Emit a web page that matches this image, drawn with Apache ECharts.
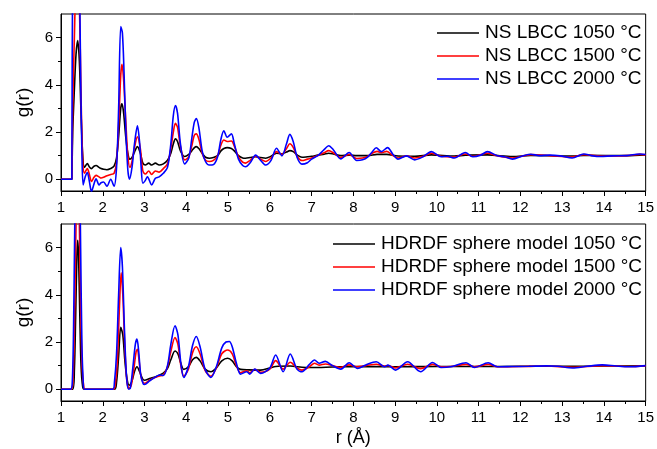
<!DOCTYPE html>
<html>
<head>
<meta charset="utf-8">
<script src="https://cdn.jsdelivr.net/npm/echarts@6/dist/echarts.min.js"></script>
<style>
  html, body { margin: 0; padding: 0; background: #fff; }
  #chart { width: 657px; height: 449px; }
</style>
</head>
<body>
<div id="chart"></div>
<script>
// Pair distribution functions g(r), r in Å.
// Upper panel: NS LBCC; lower panel: HDRDF sphere model.
const seriesNames = {
  top: ['NS LBCC 1050 °C', 'NS LBCC 1500 °C', 'NS LBCC 2000 °C'],
  bottom: ['HDRDF sphere model 1050 °C', 'HDRDF sphere model 1500 °C', 'HDRDF sphere model 2000 °C']
};
const lineColors = ['#000000', '#ff0000', '#0000ff'];

const xTicks = [1, 2, 3, 4, 5, 6, 7, 8, 9, 10, 11, 12, 13, 14, 15];
const yTicks = [0, 2, 4, 6];
const yMinorTicks = [1, 3, 5];

const ns1050 = [
  [1.0,0],[1.26,0],[1.27,0],[1.28,2.0],[1.32,3.8],[1.36,5.3],[1.40,5.87],[1.44,5.0],[1.48,2.8],[1.52,1.0],
  [1.56,0.5],[1.63,0.66],[1.68,0.52],[1.73,0.45],[1.79,0.55],[1.84,0.58],[1.91,0.5],[1.96,0.45],[2.02,0.42],
  [2.1,0.4],[2.19,0.45],[2.27,0.55],[2.33,0.9],[2.38,1.8],[2.43,3.0],[2.46,3.19],[2.5,2.8],[2.55,1.8],
  [2.6,1.1],[2.65,0.85],[2.7,0.92],[2.76,1.15],[2.83,1.38],[2.9,1.1],[2.96,0.68],[3.02,0.6],[3.1,0.68],
  [3.17,0.6],[3.26,0.68],[3.35,0.6],[3.45,0.65],[3.55,0.8],[3.63,1.1],[3.69,1.5],[3.74,1.71],[3.79,1.6],
  [3.86,1.2],[3.96,0.96],[4.06,1.05],[4.13,1.2],[4.19,1.33],[4.24,1.38],[4.3,1.3],[4.38,1.1],[4.46,0.93],
  [4.55,0.89],[4.65,0.92],[4.75,1.0],[4.83,1.2],[4.9,1.3],[4.98,1.34],[5.08,1.3],[5.15,1.2],[5.25,1.0],
  [5.35,0.9],[5.42,0.89],[5.53,0.92],[5.66,0.95],[5.78,0.92],[5.9,0.89],[6.03,0.97],[6.16,1.1],[6.29,1.08],
  [6.4,1.15],[6.48,1.21],[6.56,1.17],[6.66,1.02],[6.77,0.93],[6.9,0.95],[7.0,0.97],[7.15,1.02],[7.3,1.06],
  [7.41,1.1],[7.52,1.07],[7.7,1.0],[7.9,1.02],[8.08,1.0],[8.35,1.0],[8.57,1.05],[8.8,1.05],[9.07,0.98],
  [9.47,0.97],[9.87,1.03],[10.42,0.98],[10.68,1.02],[11.21,1.03],[11.81,0.96],[12.25,1.01],[13.24,0.98],
  [13.52,1.01],[14.55,1.0],[15.0,1.03]
];

const ns1500 = [
  [1.0,0],[1.26,0],[1.27,0],[1.28,3],[1.32,6],[1.36,8.5],[1.40,9],[1.44,7.5],[1.48,3.5],[1.52,0.8],
  [1.56,0.25],[1.63,0.45],[1.68,0.2],[1.73,-0.1],[1.79,0.08],[1.84,0.16],[1.91,0.1],[1.96,0.05],[2.02,0.08],
  [2.1,0.15],[2.19,0.2],[2.27,0.25],[2.33,0.7],[2.38,2.3],[2.43,4.4],[2.46,4.87],[2.5,4.2],[2.55,2.5],
  [2.6,1.0],[2.65,0.5],[2.7,0.75],[2.76,1.35],[2.83,1.8],[2.9,1.3],[2.96,0.35],[3.02,0.22],[3.1,0.35],
  [3.17,0.2],[3.26,0.35],[3.35,0.3],[3.45,0.45],[3.55,0.65],[3.63,1.3],[3.69,2.0],[3.74,2.37],[3.79,2.2],
  [3.86,1.4],[3.96,0.82],[4.06,0.95],[4.13,1.4],[4.19,1.85],[4.24,1.92],[4.3,1.7],[4.38,1.1],[4.46,0.8],
  [4.55,0.75],[4.65,0.8],[4.75,1.0],[4.83,1.45],[4.9,1.66],[4.98,1.6],[5.08,1.62],[5.15,1.4],[5.25,0.95],
  [5.35,0.72],[5.42,0.68],[5.53,0.8],[5.66,0.97],[5.78,0.85],[5.9,0.75],[6.03,0.9],[6.16,1.17],[6.29,1.05],
  [6.4,1.3],[6.48,1.5],[6.56,1.35],[6.66,0.95],[6.77,0.79],[6.9,0.85],[7.0,0.9],[7.15,1.0],[7.3,1.12],
  [7.41,1.21],[7.52,1.12],[7.7,0.92],[7.9,1.05],[8.08,0.88],[8.22,0.9],[8.35,0.97],[8.45,1.1],[8.57,1.18],
  [8.67,1.12],[8.8,1.18],[8.95,1.0],[9.07,0.9],[9.27,0.99],[9.47,0.9],[9.67,0.97],[9.87,1.1],[10.1,0.97],
  [10.42,0.94],[10.68,1.07],[10.86,0.97],[11.21,1.1],[11.45,0.99],[11.81,0.9],[12.25,1.04],[12.7,1.0],
  [13.24,0.94],[13.52,1.04],[13.92,0.98],[14.55,1.0],[14.86,1.05],[15.0,1.03]
];

const ns2000 = [
  [1.0,0],[1.26,0],[1.27,0],[1.28,9],[1.32,11],[1.36,12.5],[1.40,13],[1.44,9],[1.47,4.5],[1.5,1.2],
  [1.53,-0.24],[1.58,0.1],[1.63,0.28],[1.68,-0.1],[1.73,-0.52],[1.79,-0.2],[1.84,0.02],[1.91,-0.24],
  [1.96,-0.15],[2.02,-0.12],[2.1,-0.3],[2.19,0.0],[2.27,-0.3],[2.33,0.5],[2.38,3.0],[2.43,6.47],[2.47,6.2],
  [2.51,4.5],[2.55,2.2],[2.6,0.4],[2.64,0.0],[2.7,0.5],[2.76,1.5],[2.83,2.26],[2.88,1.6],[2.92,0.5],
  [2.96,-0.17],[3.02,-0.05],[3.07,0.1],[3.17,-0.24],[3.26,0.04],[3.35,0.1],[3.45,0.25],[3.55,0.5],
  [3.63,1.5],[3.69,2.7],[3.74,3.12],[3.79,2.8],[3.86,1.5],[3.96,0.65],[4.06,0.9],[4.13,1.7],[4.19,2.4],
  [4.24,2.57],[4.3,2.2],[4.38,1.2],[4.46,0.75],[4.55,0.6],[4.65,0.62],[4.75,0.95],[4.83,1.7],[4.9,2.05],
  [4.98,1.78],[5.08,1.92],[5.15,1.5],[5.25,0.85],[5.35,0.58],[5.42,0.53],[5.53,0.7],[5.66,1.02],[5.78,0.8],
  [5.9,0.6],[6.03,0.8],[6.16,1.31],[6.29,0.99],[6.4,1.5],[6.48,1.9],[6.56,1.6],[6.66,0.9],[6.77,0.64],
  [6.9,0.7],[7.0,0.85],[7.15,1.0],[7.3,1.25],[7.41,1.42],[7.52,1.25],[7.7,0.86],[7.9,1.13],[8.08,0.79],
  [8.22,0.82],[8.35,0.95],[8.45,1.15],[8.55,1.33],[8.67,1.17],[8.82,1.34],[8.95,1.05],[9.07,0.85],
  [9.27,0.99],[9.47,0.82],[9.67,0.95],[9.87,1.17],[10.1,0.95],[10.25,0.97],[10.42,0.9],[10.68,1.13],
  [10.86,0.95],[11.05,1.02],[11.21,1.17],[11.45,0.99],[11.62,0.95],[11.81,0.85],[12.05,0.98],[12.25,1.06],
  [12.45,1.0],[12.7,1.02],[12.95,0.99],[13.24,0.9],[13.52,1.07],[13.7,1.0],[13.92,0.96],[14.2,0.99],
  [14.55,1.0],[14.86,1.07],[15.0,1.05]
];

const hd1050 = [
  [1.0,0],[1.28,0],[1.32,0.8],[1.35,3.0],[1.38,5.6],[1.40,6.31],[1.42,5.7],[1.45,3.2],[1.48,1.0],[1.52,0.1],
  [1.56,0],[2.28,0],[2.33,0.3],[2.38,1.4],[2.43,2.62],[2.48,2.3],[2.53,1.2],[2.58,0.45],[2.63,0.17],
  [2.7,0.35],[2.76,0.75],[2.82,0.95],[2.88,0.75],[2.95,0.45],[3.0,0.38],[3.12,0.45],[3.3,0.55],[3.45,0.68],
  [3.55,0.88],[3.63,1.25],[3.73,1.62],[3.8,1.5],[3.87,1.1],[3.94,0.84],[4.05,0.95],[4.15,1.25],[4.24,1.35],
  [4.33,1.2],[4.45,0.85],[4.59,0.74],[4.72,0.9],[4.85,1.2],[4.99,1.31],[5.1,1.2],[5.2,0.95],[5.3,0.84],
  [5.5,0.82],[5.78,0.81],[6.0,0.9],[6.14,0.96],[6.49,0.98],[6.77,0.93],[7.0,0.92],[7.5,0.94],[8.0,0.96],
  [9.0,0.95],[10.0,0.96],[11.0,0.96],[12.0,0.97],[13.0,0.97],[14.0,0.98],[15.0,0.99]
];

const hd1500 = [
  [1.0,0],[1.25,0],[1.29,0.5],[1.33,3.5],[1.36,7],[1.40,9],[1.44,7],[1.47,3.5],[1.51,0.8],[1.55,0.05],
  [1.58,0],[2.26,0],[2.3,0.2],[2.35,1.2],[2.4,3.5],[2.44,4.93],[2.48,4.0],[2.53,1.7],[2.58,0.3],[2.63,0.03],
  [2.68,0.15],[2.74,0.8],[2.8,1.6],[2.83,1.69],[2.87,1.2],[2.92,0.5],[3.0,0.25],[3.12,0.38],[3.25,0.5],
  [3.36,0.56],[3.45,0.6],[3.55,0.95],[3.63,1.6],[3.73,2.19],[3.8,1.9],[3.87,1.0],[3.94,0.55],[4.05,0.85],
  [4.15,1.55],[4.24,1.8],[4.33,1.5],[4.45,0.8],[4.59,0.55],[4.72,0.9],[4.85,1.5],[4.99,1.66],[5.1,1.5],
  [5.2,1.0],[5.3,0.7],[5.45,0.78],[5.52,0.7],[5.64,0.84],[5.78,0.72],[6.0,0.85],[6.14,1.21],[6.32,0.85],
  [6.49,1.14],[6.65,0.9],[6.77,0.81],[6.95,0.95],[7.07,1.1],[7.18,1.02],[7.33,1.07],[7.5,1.0],[7.67,0.92],
  [7.9,1.03],[8.08,0.95],[8.3,1.0],[8.55,1.06],[8.75,0.98],[8.83,1.0],[9.01,0.9],[9.3,1.06],[9.61,0.87],
  [9.9,1.05],[10.1,0.95],[10.33,0.96],[10.7,1.05],[10.9,0.95],[11.23,1.05],[11.45,0.95],[12.0,0.96],
  [12.62,0.98],[13.25,0.93],[13.96,1.0],[14.6,0.96],[15.0,0.99]
];

const hd2000 = [
  [1.0,0],[1.23,0],[1.27,0.3],[1.3,2.5],[1.33,7],[1.36,10.5],[1.40,12],[1.44,10],[1.47,6],[1.5,2],
  [1.53,0.4],[1.56,0],[2.24,0],[2.28,0.3],[2.33,1.5],[2.38,4.0],[2.43,6.0],[2.47,5.2],[2.52,2.5],[2.57,0.5],
  [2.62,0.0],[2.66,0.05],[2.72,0.9],[2.78,1.9],[2.82,2.12],[2.86,1.6],[2.91,0.6],[2.97,0.22],[3.0,0.2],
  [3.12,0.35],[3.25,0.5],[3.36,0.6],[3.45,0.58],[3.55,1.0],[3.63,1.9],[3.73,2.69],[3.8,2.3],[3.87,1.1],
  [3.94,0.5],[4.05,0.95],[4.15,1.85],[4.24,2.23],[4.33,1.8],[4.45,0.85],[4.59,0.5],[4.72,0.95],[4.85,1.75],
  [4.95,2.0],[5.03,2.02],[5.1,1.8],[5.2,1.1],[5.3,0.64],[5.45,0.74],[5.52,0.64],[5.64,0.85],[5.78,0.67],
  [6.0,0.9],[6.14,1.45],[6.32,0.74],[6.49,1.49],[6.65,0.85],[6.77,0.74],[6.95,1.05],[7.07,1.24],[7.18,1.1],
  [7.33,1.18],[7.5,1.0],[7.7,0.85],[7.9,1.12],[8.1,0.88],[8.3,1.03],[8.55,1.16],[8.75,0.95],[8.83,1.02],
  [9.01,0.81],[9.3,1.16],[9.61,0.74],[9.9,1.13],[10.1,0.92],[10.33,0.95],[10.7,1.12],[10.9,0.92],
  [11.23,1.12],[11.45,0.95],[11.8,0.96],[12.2,0.97],[12.62,0.99],[12.9,0.97],[13.25,0.9],[13.6,0.97],
  [13.96,1.03],[14.3,0.98],[14.6,0.95],[15.0,1.0]
];

const topData = [ns1050, ns1500, ns2000];
const bottomData = [hd1050, hd1500, hd2000];

const FONT = '"Liberation Sans", Arial, sans-serif';

const chart = echarts.init(document.getElementById('chart'), null, { renderer: 'canvas' });

function xAxisFor(gridIndex, withName) {
  return {
    type: 'value', gridIndex, min: 1, max: 15, interval: 1,
    name: withName ? 'r (Å)' : '',
    nameLocation: 'middle', nameGap: 28,
    nameTextStyle: { fontFamily: FONT, fontSize: 18, color: '#000' },
    axisLine: { show: true, onZero: false, lineStyle: { color: '#000', width: 1 } },
    axisTick: { show: true, inside: false, length: 5, lineStyle: { color: '#000' } },
    minorTick: { show: true, splitNumber: 2, length: 3, lineStyle: { color: '#000' } },
    axisLabel: { show: true, margin: 9, fontFamily: FONT, fontSize: 15, color: '#000',
      customValues: xTicks },
    splitLine: { show: false }, minorSplitLine: { show: false }
  };
}

function yAxisFor(gridIndex) {
  return {
    type: 'value', gridIndex, min: -0.5, max: 7,
    name: 'g(r)', nameLocation: 'middle', nameGap: 25, nameRotate: 90,
    nameTextStyle: { fontFamily: FONT, fontSize: 19, color: '#000' },
    axisLine: { show: true, onZero: false, lineStyle: { color: '#000', width: 1 } },
    axisTick: { show: true, length: 5, customValues: yTicks, lineStyle: { color: '#000' } },
    axisLabel: { show: true, margin: 8, fontFamily: FONT, fontSize: 15, color: '#000',
      customValues: yTicks },
    splitLine: { show: false }
  };
}

function yMinorAxisFor(gridIndex) {
  return {
    type: 'value', gridIndex, min: -0.5, max: 7, position: 'left',
    axisLine: { show: false },
    axisTick: { show: true, length: 3, customValues: yMinorTicks, lineStyle: { color: '#000' } },
    axisLabel: { show: false },
    splitLine: { show: false }
  };
}

function lineSeries(name, data, color, xIdx, yIdx) {
  return {
    type: 'line', name, data, xAxisIndex: xIdx, yAxisIndex: yIdx,
    symbol: 'none', showSymbol: false, smooth: 0.3, clip: true,
    lineStyle: { color, width: 1.6 }, itemStyle: { color },
    emphasis: { disabled: true }, animation: false
  };
}

const series = [];
seriesNames.top.forEach((n, i) => series.push(lineSeries(n, topData[i], lineColors[i], 0, 0)));
seriesNames.bottom.forEach((n, i) => series.push(lineSeries(n, bottomData[i], lineColors[i], 1, 2)));

// Legend keys are short horizontal strokes in each series colour.
function legendFor(names, left, top) {
  return {
    show: true, orient: 'vertical', left, top,
    data: names.map((n, i) => ({ name: n, icon: 'rect', itemStyle: { color: lineColors[i] } })),
    itemWidth: 42, itemHeight: 1.5, itemGap: 3,
    textStyle: { fontFamily: FONT, fontSize: 19, lineHeight: 20, color: '#000', padding: [0, 0, 0, 1] },
    selectedMode: false, padding: 0
  };
}

chart.setOption({
  backgroundColor: '#ffffff',
  animation: false,
  grid: [
    { left: 61, right: 8, top: 14, height: 177, show: true, borderColor: '#000', borderWidth: 1, backgroundColor: 'transparent' },
    { left: 61, right: 8, top: 224, height: 177, show: true, borderColor: '#000', borderWidth: 1, backgroundColor: 'transparent' }
  ],
  xAxis: [xAxisFor(0, false), xAxisFor(1, true)],
  yAxis: [yAxisFor(0), yMinorAxisFor(0), yAxisFor(1), yMinorAxisFor(1)],
  legend: [
    legendFor(seriesNames.top, 437, 23),
    legendFor(seriesNames.bottom, 333, 234)
  ],
  series
});
</script>
</body>
</html>
